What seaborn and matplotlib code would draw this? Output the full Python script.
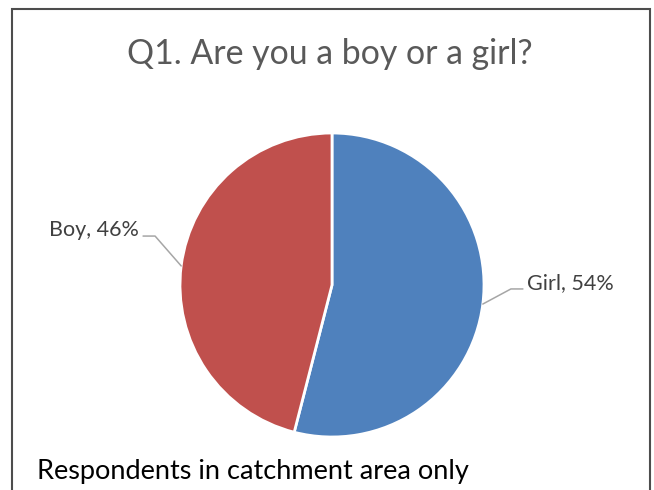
import numpy as np
import matplotlib
matplotlib.use("Agg")
import matplotlib.pyplot as plt
import seaborn as sns
from matplotlib.patches import Rectangle

# Data
labels = ["Girl", "Boy"]
shares = [54, 46]
colors = ["#4F81BD", "#C0504D"]

sns.set_theme(style="white")
plt.rcParams['font.family'] = ['Lato', 'DejaVu Sans']

fig = plt.figure(figsize=(6.54, 4.90), dpi=100)

# outer chart border (bottom edge is cut off)
fig.patches.append(Rectangle((12 / 654, -0.05), (650 - 12) / 654, 1.05 - 9 / 490,
                             transform=fig.transFigure, fill=False,
                             edgecolor="#4d4d4d", linewidth=1.5))

# pie axes: center (332, 285) px, radius 152 px
ax = fig.add_axes([(332 - 152) / 654, (490 - 285 - 152) / 490, 304 / 654, 304 / 490])
wedges, _ = ax.pie(shares, colors=colors, startangle=90, counterclock=False,
                   wedgeprops=dict(edgecolor="white", linewidth=2))
ax.set_xlim(-1, 1)
ax.set_ylim(-1, 1)
ax.set_aspect("auto")
ax.axis("off")

# label placement (data units of the pie axes): text x, text y, line y, align
text_pos = {"Boy": (-1.27, 0.36, 0.322, "right"), "Girl": (1.283, 0.013, -0.026, "left")}
for w, lab, val in zip(wedges, labels, shares):
    ang = np.deg2rad((w.theta1 + w.theta2) / 2)
    x0, y0 = np.cos(ang), np.sin(ang)
    tx, ty, ly, ha = text_pos[lab]
    sign = 1 if ha == "right" else -1
    ax.plot([x0, tx + sign * 0.106, tx + sign * 0.027], [y0, ly, ly],
            color="#a6a6a6", linewidth=1.1, clip_on=False)
    ax.text(tx, ty, f"{lab}, {val}%", ha=ha, va="center", fontsize=15.5,
            color="#404040", clip_on=False)

fig.text(330 / 654, 1 - 54 / 490, "Q1. Are you a boy or a girl?", ha="center",
         va="center", fontsize=24.4, color="#595959")
fig.text(37 / 654, 1 - 471 / 490, "Respondents in catchment area only", ha="left",
         va="center", fontsize=19.5, color="black")

fig.savefig("out.png", dpi=100)
